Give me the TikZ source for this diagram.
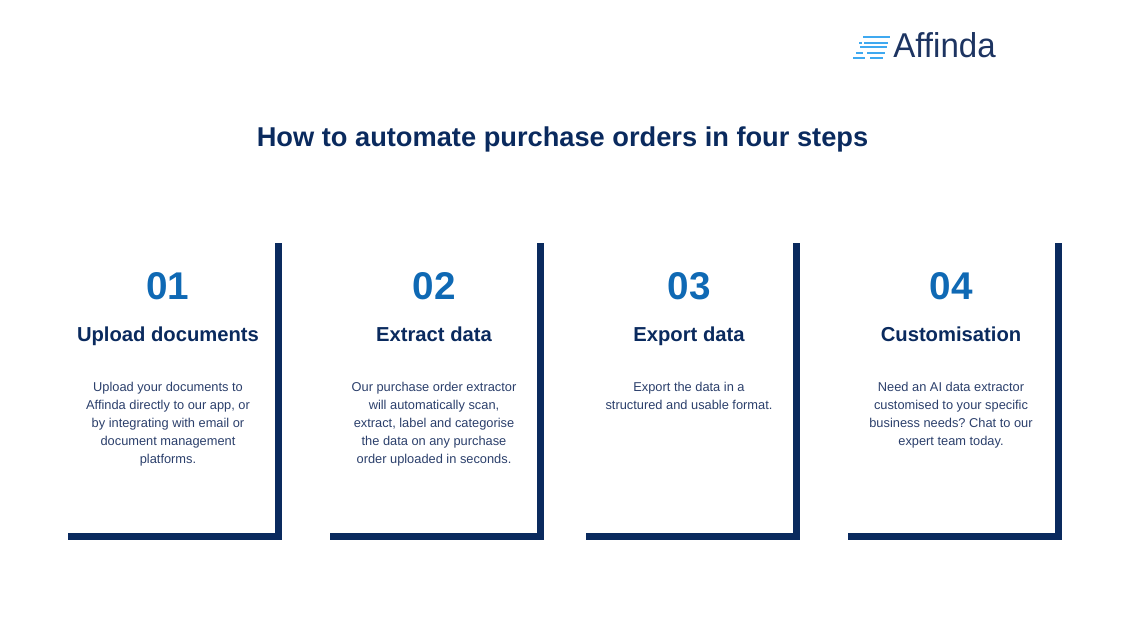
\documentclass[tikz,border=0pt]{standalone}
\usepackage{fontspec}
\setmainfont{Liberation Sans}
\frenchspacing
\definecolor{navy}{HTML}{0A2A5E}
\definecolor{stepblue}{HTML}{0F69B4}
\definecolor{bodyblue}{HTML}{2B3F6B}
\definecolor{logoblue}{HTML}{3FA9F0}
\definecolor{logonavy}{HTML}{1D3461}
\tikzset{
    title/.style={
    font=\bfseries\fontsize{15.5}{18}\selectfont,text=navy,anchor=base
    },
    number/.style={
    font=\bfseries\fontsize{22}{26}\selectfont,text=stepblue,anchor=base
    },
    heading/.style={
    font=\bfseries\fontsize{11.5}{14}\selectfont,text=navy,anchor=base
    },
    body/.style={
    font=\fontsize{7.3}{10.25}\selectfont,text=bodyblue,align=center,anchor=north,inner sep=0pt
    },
    bracket/.style={
    draw=navy,line width=0.14cm
    },
    stripe/.style={
    draw=logoblue,line width=0.04cm
    },
}
\begin{document}
\begin{tikzpicture}
   \useasboundingbox (0,0) rectangle (22.5,12.5);
   % logo
   \node[font=\fontsize{19.6}{22}\selectfont,text=logonavy,inner sep=0pt,xscale=0.96] (logo) at (18.89,11.60) {Affinda};
   \draw[stripe] (17.26,11.75) -- (17.80,11.75);
   \draw[stripe] (17.18,11.63) -- (17.24,11.63) (17.28,11.63) -- (17.76,11.63);
   \draw[stripe] (17.20,11.55) -- (17.74,11.55);
   \draw[stripe] (17.12,11.43) -- (17.26,11.43) (17.34,11.43) -- (17.70,11.43);
   \draw[stripe] (17.06,11.33) -- (17.30,11.33) (17.40,11.33) -- (17.66,11.33);
   % title
   \node[title] (head) at (11.25,9.56) {How to automate purchase orders in four steps};
   % step 1
   \draw[bracket] (1.36,1.77) -- (5.57,1.77) -- (5.57,7.64);
   \node[number] (n1) at (3.36,6.51) {01};
   \node[heading] (h1) at (3.36,5.66) {Upload documents};
   \node[body] (b1) at (3.36,4.87) {Upload your documents to\\Affinda directly to our app, or\\by integrating with email or\\document management\\platforms.};
   % step 2
   \draw[bracket] (6.60,1.77) -- (10.81,1.77) -- (10.81,7.64);
   \node[number] (n2) at (8.68,6.51) {02};
   \node[heading] (h2) at (8.68,5.66) {Extract data};
   \node[body] (b2) at (8.68,4.87) {Our purchase order extractor\\will automatically scan,\\extract, label and categorise\\the data on any purchase\\order uploaded in seconds.};
   % step 3
   \draw[bracket] (11.72,1.77) -- (15.93,1.77) -- (15.93,7.64);
   \node[number] (n3) at (13.78,6.51) {03};
   \node[heading] (h3) at (13.78,5.66) {Export data};
   \node[body] (b3) at (13.78,4.87) {Export the data in a\\structured and usable format.};
   % step 4
   \draw[bracket] (16.96,1.77) -- (21.17,1.77) -- (21.17,7.64);
   \node[number] (n4) at (19.02,6.51) {04};
   \node[heading] (h4) at (19.02,5.66) {Customisation};
   \node[body] (b4) at (19.02,4.87) {Need an AI data extractor\\customised to your specific\\business needs? Chat to our\\expert team today.};
\end{tikzpicture}
\end{document}
